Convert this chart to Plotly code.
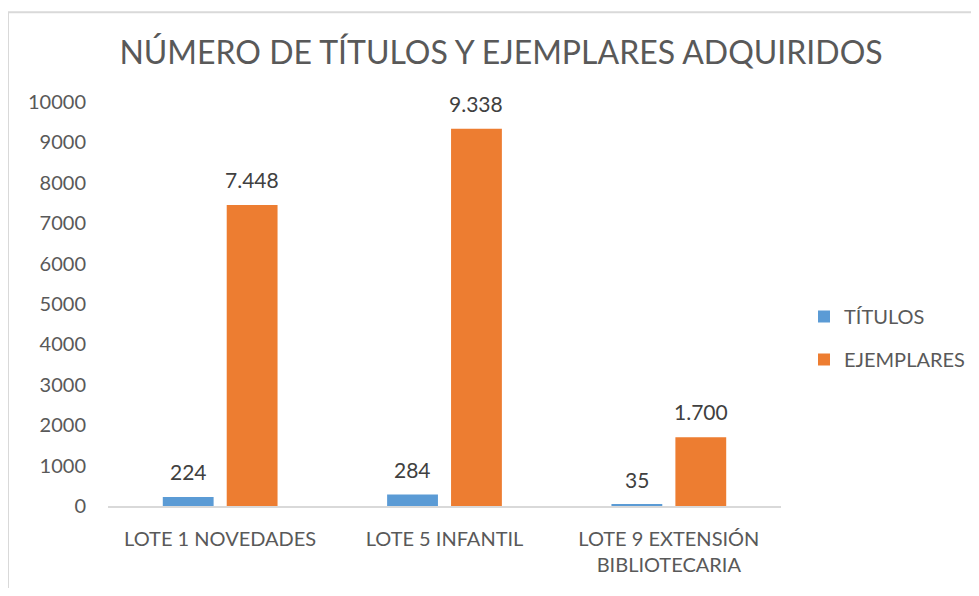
import plotly.graph_objects as go

categories = ["LOTE 1 NOVEDADES", "LOTE 5 INFANTIL", "LOTE 9 EXTENSIÓN<br>BIBLIOTECARIA"]
titulos = [224, 284, 35]
ejemplares = [7448, 9338, 1700]
series_names = ["TÍTULOS", "EJEMPLARES"]
colors = ["#5B9BD5", "#ED7D31"]
title_text = "NÚMERO DE TÍTULOS Y EJEMPLARES ADQUIRIDOS"
ytick_vals = list(range(0, 10001, 1000))


def fmt(v):
    return f"{v:,}".replace(",", ".")


# the page places the figure at an 8px offset (default body margin)
W, H = 963, 580
ml, mr, mt, mb = 100, 190, 94, 76
pw, ph = W - ml - mr, H - mt - mb

fig = go.Figure()
for name, vals, col in zip(series_names, [titulos, ejemplares], colors):
    fig.add_trace(go.Bar(name=name, x=categories, y=vals, legendgroup=name,
                         marker=dict(color=col, line=dict(width=0))))

cat_w = pw / len(categories)
bargap = 0.43
slot = cat_w * (1 - bargap) / 2
annotations = []
for vals, off in [(titulos, -slot / 2), (ejemplares, slot / 2)]:
    for c, v in zip(categories, vals):
        annotations.append(dict(x=c, y=v, xref="x", yref="y", text=fmt(v), showarrow=False,
                                yanchor="bottom", yshift=11, xshift=off,
                                font=dict(family="Lato", size=21, color="#404040")))

fig.update_layout(
    width=W, height=H,
    margin=dict(l=ml, r=mr, t=mt, b=mb),
    paper_bgcolor="white", plot_bgcolor="white",
    font=dict(family="Lato", color="#595959"),
    title=dict(text=title_text, x=493 / W, xanchor="center", y=1 - 45 / H, yanchor="middle",
               font=dict(family="Lato", size=32, color="#595959")),
    barmode="group", bargap=bargap, bargroupgap=0.205,
    showlegend=True,
    legend=dict(xref="container", yref="container", x=796 / W, xanchor="left",
                y=1 - 330 / H, yanchor="middle",
                font=dict(family="Lato", size=20, color="#595959"),
                itemwidth=30, tracegroupgap=14, bgcolor="rgba(0,0,0,0)"),
    annotations=annotations,
    xaxis=dict(showgrid=False, showline=True, linecolor="#D9D9D9",
               linewidth=1.5, ticks="", tickfont=dict(family="Lato", size=20, color="#595959"),
               ticklabelstandoff=14, fixedrange=True),
    yaxis=dict(range=[0, 10000], tickvals=ytick_vals, tickformat="d", showgrid=False,
               zeroline=False, showline=False, ticks="",
               tickfont=dict(family="Lato", size=20, color="#595959"),
               ticklabelstandoff=21, fixedrange=True),
    shapes=[dict(type="rect", xref="paper", yref="paper",
                 x0=(0 - ml) / pw, x1=(W + 30 - ml) / pw,
                 y0=(H - mb - (H + 30)) / ph, y1=(H - mb - 3) / ph,
                 line=dict(color="#D9D9D9", width=2), layer="below")],
)

fig.write_html("out.html")
